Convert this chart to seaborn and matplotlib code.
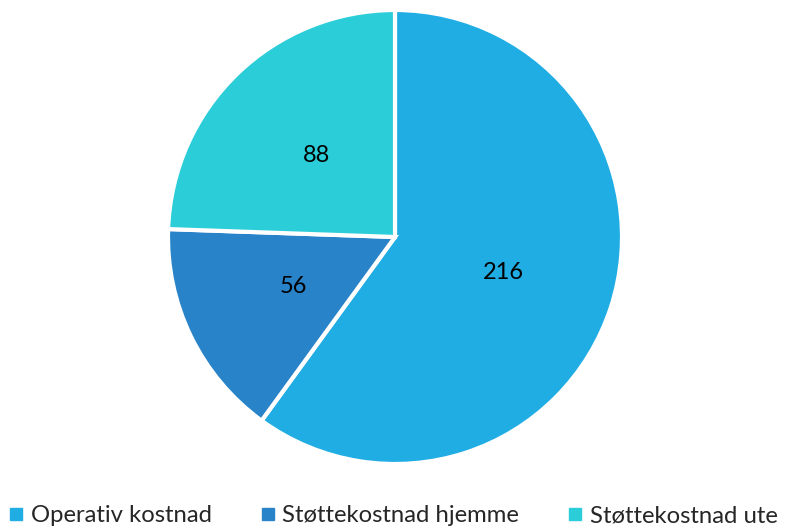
import matplotlib
matplotlib.use("Agg")
import matplotlib.pyplot as plt
import seaborn as sns
from matplotlib.lines import Line2D

categories = ["Operativ kostnad", "Støttekostnad hjemme", "Støttekostnad ute"]
values = [216, 56, 88]
colors = ["#1FADE4", "#2983C9", "#2BCDD8"]

sns.set_theme(style="white")
plt.rcParams['font.family'] = ['Lato', 'DejaVu Sans']

fig = plt.figure(figsize=(7.92, 5.28), dpi=100)
W, H = 792, 528
cx, cy, R = 395, 237, 227
ax = fig.add_axes([(cx - R) / W, (H - cy - R) / H, 2 * R / W, 2 * R / H])
total = sum(values)
ax.pie(values, colors=colors, startangle=90, counterclock=False,
       autopct=lambda p: f"{p * total / 100:.0f}", pctdistance=0.5,
       wedgeprops=dict(edgecolor="white", linewidth=3),
       textprops=dict(fontsize=17, color="black"))
ax.set_aspect("equal")
ax.set_xlim(-1, 1)
ax.set_ylim(-1, 1)
ax.axis("off")

handles = [Line2D([0], [0], marker="s", linestyle="", markersize=9,
                  markerfacecolor=c, markeredgecolor=c) for c in colors]
fig.legend(handles, categories, loc="center left", ncol=3,
           bbox_to_anchor=(8 / W, 1 - 516 / H), frameon=False,
           fontsize=17.2, handletextpad=0.25, columnspacing=2.0,
           handlelength=0.7, borderaxespad=0, borderpad=0)

fig.savefig("out.png", dpi=100)
